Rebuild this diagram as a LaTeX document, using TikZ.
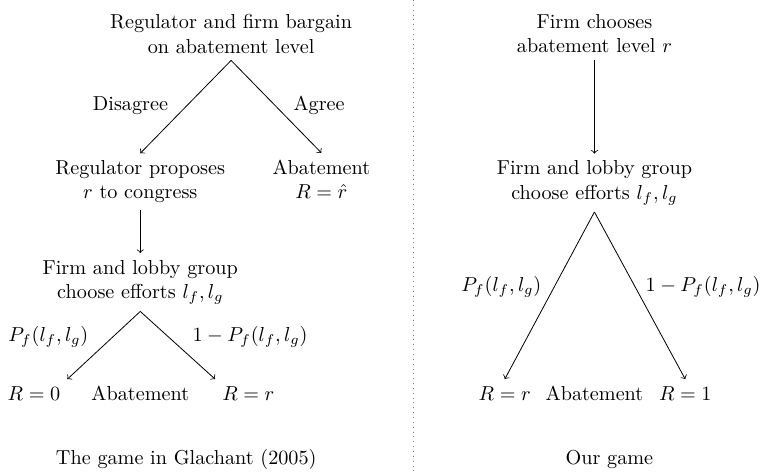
\documentclass[tikz,border=0pt]{standalone}
\usepackage{amsmath}

\begin{document}
\begin{tikzpicture}[txt/.style={align=center}, move/.style={->}]
  \useasboundingbox (0,0) rectangle (13.22,-8.23);
  \draw[gray, dotted] (7.19,0) -- (7.19,-8.23);

  \node[txt] (bargain)  at (4.02,-0.59) {Regulator and firm bargain\\on abatement level};
  \node[txt] (propose)  at (2.44,-3.16) {Regulator proposes\\$r$ to congress};
  \node[txt] (deal)     at (5.59,-3.12) {Abatement\\$R=\hat{r}$};
  \node[txt] (effortsA) at (2.44,-4.91) {Firm and lobby group\\choose efforts $l_f,l_g$};
  \node (disagree) at (2.27,-1.84) {Disagree};
  \node (agree)    at (5.55,-1.84) {Agree};
  \node (pA)  at (0.84,-5.86) {$P_f(l_f,l_g)$};
  \node (qA)  at (4.35,-5.86) {$1-P_f(l_f,l_g)$};
  \node (RzA) at (0.59,-6.84) {$R=0$};
  \node (abA) at (2.44,-6.84) {Abatement};
  \node (RrA) at (4.32,-6.84) {$R=r$};
  \node (capA) at (3.24,-8.00) {The game in Glachant (2005)};

  \draw[move] (bargain.south) -- (propose.north);
  \draw[move] (bargain.south) -- (deal.north);
  \draw[move] (propose.south) -- (effortsA.north);
  \draw[move] (effortsA.south) -- (RzA.north east);
  \draw[move] (effortsA.south) -- (RrA.north west);

  \node[txt] (choose)   at (10.34,-0.58) {Firm chooses\\abatement level $r$};
  \node[txt] (effortsB) at (10.34,-3.18) {Firm and lobby group\\choose efforts $l_f,l_g$};
  \node (pB)  at (8.72,-4.99)  {$P_f(l_f,l_g)$};
  \node (qB)  at (12.23,-4.99) {$1-P_f(l_f,l_g)$};
  \node (RrB) at (8.78,-6.84)  {$R=r$};
  \node (abB) at (10.34,-6.84) {Abatement};
  \node (R1B) at (11.92,-6.84) {$R=1$};
  \node (capB) at (10.60,-8.00) {Our game};

  \draw[move] (choose.south) -- (effortsB.north);
  \draw[move] (effortsB.south) -- (RrB.north);
  \draw[move] (effortsB.south) -- (R1B.north);
\end{tikzpicture}
\end{document}
